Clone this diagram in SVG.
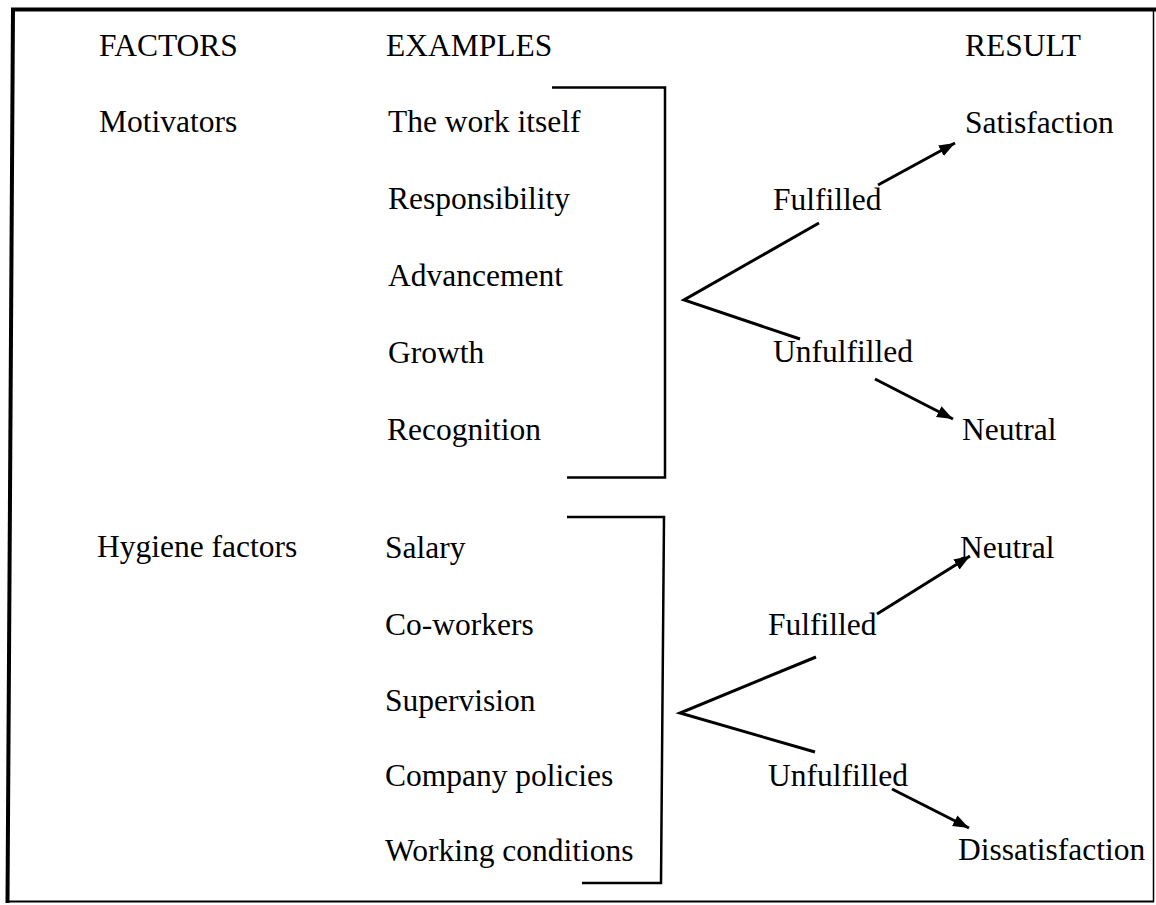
<svg xmlns="http://www.w3.org/2000/svg" width="1156" height="905" viewBox="0 0 1156 905">
<style>
text{font-family:"Liberation Serif","Times New Roman",serif;font-size:31.5px;fill:#000}
.ln{fill:none;stroke:#000;stroke-width:2.5}
.fk{fill:none;stroke:#000;stroke-width:3;stroke-linejoin:miter}
.ar{stroke:#000;stroke-width:3;marker-end:url(#ah)}
</style>
<defs>
<marker id="ah" markerUnits="userSpaceOnUse" markerWidth="18" markerHeight="14" refX="16" refY="6" orient="auto">
<path d="M0,0 L16,6 L0,12 Z" fill="#000"/>
</marker>
</defs>
<rect width="1156" height="905" fill="#fff"/>
<g id="frame">
<line x1="13" y1="8" x2="7.5" y2="903" stroke="#000" stroke-width="4"/>
<line x1="11" y1="9.5" x2="1156" y2="9.5" stroke="#000" stroke-width="4"/>
<line x1="1153.5" y1="9" x2="1153.5" y2="902" stroke="#000" stroke-width="1.5"/>
<line x1="6" y1="901.5" x2="1154" y2="901.5" stroke="#000" stroke-width="2"/>
</g>
<g id="headers">
<text x="99" y="56">FACTORS</text>
<text x="386" y="56">EXAMPLES</text>
<text x="965" y="56">RESULT</text>
</g>
<g id="motivators">
<text x="99" y="132">Motivators</text>
</g>
<g id="motivator-examples">
<text x="388" y="132">The work itself</text>
<text x="388" y="209">Responsibility</text>
<text x="388" y="286">Advancement</text>
<text x="388" y="363">Growth</text>
<text x="387" y="440">Recognition</text>
<path class="ln" d="M552,87.5 H665 V477.5 H567"/>
</g>
<g id="hygiene">
<text x="97" y="557">Hygiene factors</text>
</g>
<g id="hygiene-examples">
<text x="385" y="558">Salary</text>
<text x="385" y="635">Co-workers</text>
<text x="385" y="711">Supervision</text>
<text x="385" y="786">Company policies</text>
<text x="385" y="861">Working conditions</text>
<path class="ln" d="M567,517 H664 L661,883 H582"/>
</g>
<g id="motivator-outcomes">
<text x="773" y="210">Fulfilled</text>
<text x="773" y="362">Unfulfilled</text>
<text x="965" y="133">Satisfaction</text>
<text x="962" y="440">Neutral</text>
</g>
<g id="hygiene-outcomes">
<text x="768" y="635">Fulfilled</text>
<text x="768" y="786">Unfulfilled</text>
<text x="960" y="558">Neutral</text>
<text x="958" y="860">Dissatisfaction</text>
</g>
<g id="connectors">
<path class="fk" d="M819,223 L684,300 L800,339"/>
<path class="fk" d="M816,657 L680,713 L815,752"/>
<line class="ar" x1="878" y1="185" x2="955" y2="143"/>
<line class="ar" x1="875" y1="379" x2="953" y2="419"/>
<line class="ar" x1="877" y1="614" x2="970" y2="556"/>
<line class="ar" x1="892" y1="789" x2="969" y2="828"/>
</g>
</svg>
